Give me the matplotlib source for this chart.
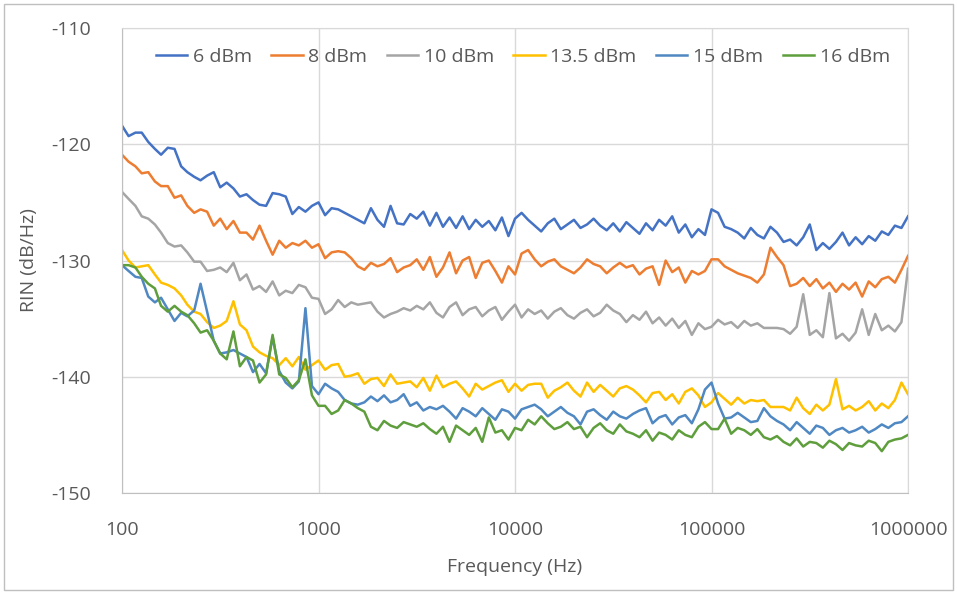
import matplotlib
matplotlib.use("Agg")
import matplotlib.pyplot as plt
from matplotlib.patches import Rectangle
from matplotlib.ticker import FixedLocator, FuncFormatter, NullLocator

# frequency grid (Hz), read along the log axis
freq_hz = [
    100, 108, 117, 126, 136, 147, 158, 171, 185, 200,
    215, 233, 251, 271, 293, 316, 341, 369, 398, 430,
    464, 501, 541, 584, 631, 681, 736, 794, 858, 926,
    1000, 1080, 1166, 1259, 1359, 1468, 1585, 1711, 1848, 1995,
    2154, 2326, 2512, 2712, 2929, 3162, 3415, 3687, 3981, 4299,
    4642, 5012, 5412, 5843, 6310, 6813, 7356, 7943, 8577, 9261,
    10000, 10800, 11660, 12590, 13590, 14680, 15850, 17110, 18480, 19950,
    21540, 23260, 25120, 27120, 29290, 31620, 34150, 36870, 39810, 42990,
    46420, 50120, 54120, 58430, 63100, 68130, 73560, 79430, 85770, 92610,
    100000, 108000, 116600, 125900, 135900, 146800, 158500, 171100, 184800, 199500,
    215400, 232600, 251200, 271200, 292900, 316200, 341500, 368700, 398100, 429900,
    464200, 501200, 541200, 584300, 631000, 681300, 735600, 794300, 857700, 926100,
    1000000,
]

rin_6dbm = [
    -118.4, -119.3, -119.0, -119.0, -119.8, -120.4, -120.9, -120.3, -120.4, -121.9,
    -122.4, -122.8, -123.1, -122.7, -122.4, -123.7, -123.3, -123.8, -124.5, -124.3,
    -124.8, -125.2, -125.3, -124.2, -124.3, -124.5, -126.0, -125.4, -125.8, -125.3,
    -125.0, -126.1, -125.5, -125.6, -125.9, -126.2, -126.5, -126.8, -125.5, -126.5,
    -127.1, -125.3, -126.8, -126.9, -126.0, -126.4, -125.8, -127.0, -125.9, -127.1,
    -126.3, -127.2, -126.2, -127.3, -126.5, -127.1, -126.6, -127.4, -126.3, -127.9,
    -126.4, -125.9, -126.5, -127.0, -127.5, -126.8, -126.4, -127.3, -126.9, -126.5,
    -127.2, -126.9, -126.4, -127.0, -127.4, -126.8, -127.5, -126.7, -127.2, -127.7,
    -126.8, -127.4, -126.5, -127.0, -126.2, -127.6, -126.9, -128.0, -127.3, -127.8,
    -125.6, -125.9, -127.1, -127.3, -127.6, -128.1, -127.2, -127.8, -128.1, -127.1,
    -127.6, -128.4, -128.2, -128.7, -128.0, -126.9, -129.1, -128.5, -129.0, -128.4,
    -127.6, -128.7, -128.0, -128.6, -127.9, -128.3, -127.5, -127.8, -127.0, -127.2,
    -126.2,
]

rin_8dbm = [
    -120.9, -121.5, -121.9, -122.5, -122.4, -123.2, -123.6, -123.6, -124.6, -124.4,
    -125.3, -125.9, -125.6, -125.8, -127.0, -126.4, -127.3, -126.6, -127.6, -127.6,
    -128.2, -127.0, -128.3, -129.5, -128.3, -128.9, -128.5, -128.7, -128.3, -128.9,
    -128.6, -129.8, -129.3, -129.2, -129.3, -129.8, -130.5, -130.8, -130.2, -130.5,
    -130.3, -129.8, -131.0, -130.6, -130.4, -129.9, -130.8, -129.7, -131.4, -130.6,
    -129.3, -131.1, -130.0, -129.7, -131.5, -130.2, -130.0, -130.9, -131.9, -130.5,
    -131.2, -129.4, -129.1, -129.9, -130.5, -130.1, -129.9, -130.5, -130.8, -131.1,
    -130.6, -129.9, -130.3, -130.5, -131.1, -130.6, -130.2, -130.6, -130.4, -131.2,
    -130.7, -130.5, -132.1, -130.0, -131.0, -130.6, -131.9, -130.9, -131.2, -130.9,
    -129.9, -129.9, -130.5, -130.8, -131.1, -131.3, -131.5, -131.9, -131.2, -128.9,
    -129.7, -130.4, -132.2, -132.0, -131.5, -132.2, -131.6, -132.4, -131.9, -132.7,
    -132.0, -132.5, -131.9, -133.1, -131.8, -132.3, -131.6, -131.4, -131.9, -130.8,
    -129.6,
]

rin_10dbm = [
    -124.1, -124.7, -125.3, -126.2, -126.4, -126.9, -127.6, -128.5, -128.8, -128.7,
    -129.3, -130.1, -130.1, -130.9, -130.8, -130.6, -131.0, -130.2, -131.7, -131.2,
    -132.5, -132.2, -132.7, -131.8, -133.0, -132.6, -132.8, -132.1, -132.3, -133.2,
    -133.3, -134.6, -134.2, -133.4, -134.0, -133.6, -133.8, -133.7, -133.6, -134.4,
    -134.9, -134.6, -134.4, -134.1, -134.3, -133.9, -134.2, -133.6, -134.5, -134.9,
    -134.0, -133.6, -134.7, -134.2, -134.0, -134.8, -134.3, -134.0, -135.1, -134.4,
    -133.8, -134.9, -134.2, -134.6, -134.3, -135.0, -134.4, -134.1, -134.7, -135.0,
    -134.5, -134.2, -134.8, -134.5, -133.8, -134.3, -134.6, -135.3, -134.7, -135.1,
    -134.4, -135.4, -134.9, -135.6, -135.0, -135.8, -135.2, -136.4, -135.4, -135.9,
    -135.7, -135.1, -135.5, -135.3, -135.8, -135.2, -135.6, -135.4, -135.8, -135.8,
    -135.8, -135.9, -136.3, -135.7, -132.9, -136.4, -136.0, -136.6, -132.8, -136.7,
    -136.3, -136.9, -136.2, -134.2, -136.4, -134.6, -136.0, -135.6, -136.1, -135.3,
    -130.7,
]

rin_13_5dbm = [
    -129.1, -130.0, -130.6, -130.5, -130.4, -131.2, -131.9, -132.1, -132.4, -133.0,
    -133.8, -134.4, -134.6, -135.3, -135.8, -135.6, -135.2, -133.5, -135.5, -136.0,
    -137.4, -137.9, -138.2, -138.4, -139.0, -138.4, -139.1, -138.3, -139.4, -139.0,
    -138.6, -139.4, -139.0, -138.9, -140.0, -139.9, -139.7, -140.6, -140.2, -140.1,
    -140.8, -139.8, -140.6, -140.5, -140.4, -140.9, -140.1, -141.2, -139.9, -140.9,
    -140.6, -140.4, -141.0, -141.7, -140.6, -141.1, -140.8, -140.5, -140.3, -141.3,
    -140.6, -141.2, -140.7, -140.6, -140.6, -141.8, -141.2, -140.9, -140.5, -141.2,
    -141.7, -140.5, -141.3, -140.7, -141.2, -141.7, -141.0, -140.8, -141.1, -141.6,
    -142.2, -141.4, -141.3, -142.0, -141.5, -142.3, -141.3, -141.0, -141.6, -142.6,
    -142.2, -141.4, -141.9, -142.4, -141.8, -142.3, -142.0, -142.1, -142.0, -142.6,
    -142.6, -142.6, -142.9, -141.8, -142.7, -143.2, -142.4, -142.9, -142.4, -140.2,
    -142.8, -142.5, -142.9, -142.6, -142.1, -142.9, -142.3, -142.7, -142.0, -140.5,
    -141.5,
]

rin_15dbm = [
    -130.4, -130.9, -131.4, -131.5, -133.1, -133.6, -133.2, -134.2, -135.2, -134.5,
    -134.8, -134.3, -132.0, -134.4, -136.9, -138.0, -137.9, -137.7, -138.0, -138.3,
    -139.6, -138.9, -139.7, -136.6, -139.5, -140.5, -141.0, -140.4, -134.1, -140.8,
    -141.5, -140.6, -141.0, -141.3, -142.0, -142.3, -142.4, -142.2, -141.7, -142.1,
    -141.6, -142.2, -142.0, -141.5, -142.5, -142.2, -142.9, -142.6, -142.8, -142.5,
    -143.0, -143.6, -142.7, -143.0, -143.4, -142.7, -143.2, -143.7, -142.8, -143.0,
    -143.6, -142.8, -142.6, -142.4, -142.8, -143.4, -143.0, -142.6, -143.1, -143.4,
    -144.1, -143.0, -142.8, -143.3, -143.7, -143.0, -143.4, -143.6, -143.2, -142.9,
    -142.7, -144.0, -143.5, -143.3, -144.1, -143.5, -143.3, -144.0, -142.8, -141.1,
    -140.5, -142.3, -143.6, -143.5, -143.1, -143.5, -143.9, -143.8, -142.7, -143.4,
    -143.8, -144.1, -144.6, -143.9, -144.4, -144.9, -144.2, -144.4, -145.0, -144.6,
    -144.4, -144.8, -144.6, -144.3, -144.8, -144.5, -144.1, -144.4, -144.0, -143.9,
    -143.4,
]

rin_16dbm = [
    -130.4, -130.4, -130.6, -131.4, -132.0, -132.4, -133.9, -134.4, -133.9, -134.4,
    -134.7, -135.4, -136.2, -136.0, -136.9, -138.0, -138.5, -136.1, -139.1, -138.3,
    -138.6, -140.5, -139.8, -136.4, -139.8, -140.1, -140.9, -140.3, -138.5, -141.6,
    -142.5, -142.5, -143.2, -142.9, -142.0, -142.3, -142.7, -143.0, -144.3, -144.6,
    -143.8, -144.2, -144.4, -143.9, -144.1, -144.3, -144.0, -144.5, -144.9, -144.3,
    -145.6, -144.2, -144.6, -145.0, -144.4, -145.6, -143.5, -144.8, -144.6, -145.4,
    -144.4, -144.6, -143.7, -144.1, -143.4, -144.0, -144.5, -144.3, -143.9, -144.5,
    -144.3, -145.2, -144.4, -144.0, -144.6, -144.9, -144.1, -144.7, -144.9, -145.2,
    -144.6, -145.5, -144.8, -145.0, -145.4, -144.6, -145.0, -145.2, -144.3, -143.9,
    -144.5, -144.5, -143.6, -144.9, -144.4, -144.6, -145.0, -144.5, -145.2, -145.4,
    -145.1, -145.6, -145.9, -145.3, -146.0, -145.6, -145.7, -146.1, -145.5, -145.8,
    -146.3, -145.7, -145.9, -146.0, -145.5, -145.7, -146.4, -145.6, -145.4, -145.3,
    -145.0,
]

series_labels = ["6 dBm", "8 dBm", "10 dBm", "13.5 dBm", "15 dBm", "16 dBm"]
series_values = [rin_6dbm, rin_8dbm, rin_10dbm, rin_13_5dbm, rin_15dbm, rin_16dbm]
series_colors = ["#4472C4", "#ED7D31", "#A5A5A5", "#FFC000", "#4F88C2", "#5F9E3C"]

x_ticks = [100, 1000, 10000, 100000, 1000000]
y_ticks = [-150, -140, -130, -120, -110]

text_color = "#595959"
plt.rcParams["font.family"] = ["Open Sans", "DejaVu Sans"]
plt.rcParams["axes.unicode_minus"] = False

fig = plt.figure(figsize=(9.57, 5.92), dpi=100)
ax = fig.add_axes([0.1275, 0.1672, 0.8213, 0.7855])

for vals, lab, col in zip(series_values, series_labels, series_colors):
    ax.plot(freq_hz, vals, color=col, lw=1.8, label=lab, solid_joinstyle="round")

ax.set_xscale("log")
ax.set_xlim(100, 1000000)
ax.set_ylim(-150, -110)
ax.xaxis.set_major_locator(FixedLocator(x_ticks))
ax.xaxis.set_minor_locator(NullLocator())
ax.xaxis.set_major_formatter(FuncFormatter(lambda v, p: f"{int(round(v))}"))
ax.set_yticks(y_ticks)

ax.grid(True, color="#D9D9D9", lw=1)
ax.set_axisbelow(True)
for side in ["top", "right"]:
    ax.spines[side].set_color("#D9D9D9")
for side in ["left", "bottom"]:
    ax.spines[side].set_color("#BFBFBF")
ax.tick_params(length=0, labelsize=14, labelcolor=text_color)
ax.tick_params(axis="x", pad=20)
ax.tick_params(axis="y", pad=22)

ax.set_xlabel("Frequency (Hz)", fontsize=14, color=text_color, labelpad=14)
ax.set_ylabel("RIN (dB/Hz)", fontsize=14, color=text_color, labelpad=10)

ax.legend(loc="upper center", bbox_to_anchor=(0.51, 0.995), ncol=6, frameon=False,
          fontsize=14, handlelength=1.6, handletextpad=0.3, columnspacing=1.0,
          labelcolor=text_color)

# outer chart border
fig.patches.append(Rectangle((0.004, 0.004), 0.992, 0.99, transform=fig.transFigure,
                             fill=False, ec="#BFBFBF", lw=1))

fig.savefig("out.png", dpi=100)
